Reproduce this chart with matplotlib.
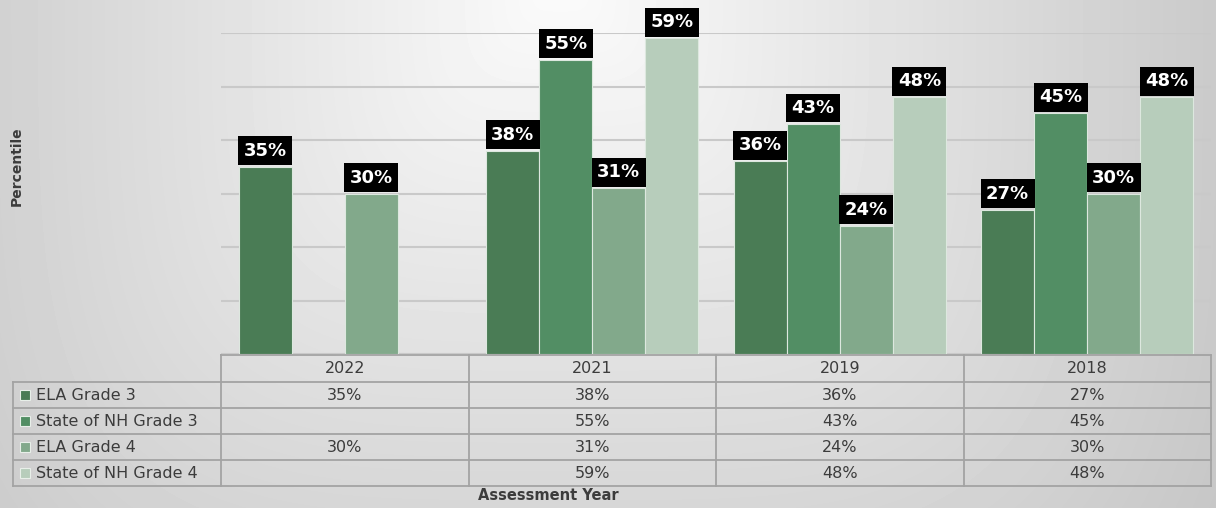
import matplotlib
matplotlib.use("Agg")
import matplotlib.pyplot as plt
import matplotlib.transforms as mtransforms
from matplotlib.patches import Rectangle
import numpy as np

years = ["2022", "2021", "2019", "2018"]
series = ["ELA Grade 3", "State of NH Grade 3", "ELA Grade 4", "State of NH Grade 4"]
ela_g3 = [35, 38, 36, 27]
nh_g3 = [np.nan, 55, 43, 45]
ela_g4 = [30, 31, 24, 30]
nh_g4 = [np.nan, 59, 48, 48]
colors = ["#4a7c55", "#528e64", "#82a98b", "#b7cdbb"]

W, H = 1216, 508
fig = plt.figure(figsize=(W / 100, H / 100), dpi=100)

# background: rectangular "path" gradient, light at top centre
bg = fig.add_axes([0, 0, 1, 1], zorder=-10)
yy, xx = np.mgrid[0:H, 0:W]
dx = np.abs(xx - 560) / 700.0
dy = np.abs(yy + 20) / 754.0
d = (dx ** 4 + dy ** 4) ** 0.25
shade = np.clip(0.985 - 0.205 * d, 0.78, 0.985)
bg.imshow(shade, cmap="gray", vmin=0, vmax=1, extent=[0, W, H, 0], aspect="auto")
bg.set_xlim(0, W)
bg.set_ylim(H, 0)
bg.axis("off")

left, right, top, base = 221, 1211, 33, 354
ax = fig.add_axes([left / W, (H - base) / H, (right - left) / W, (base - top) / H])
ax.patch.set_alpha(0)
ax.set_xlim(-0.5, 3.5)
ax.set_ylim(0, 60)
ax.set_yticks(np.arange(0, 61, 10))
ax.yaxis.grid(True, color="#c9c9c9", linewidth=1.5)
ax.set_axisbelow(True)
ax.tick_params(left=False, bottom=False, labelleft=False, labelbottom=False)
for s in ax.spines.values():
    s.set_visible(False)

x = np.arange(len(years))
w = 0.2145
data = [ela_g3, nh_g3, ela_g4, nh_g4]
for i, vals in enumerate(data):
    pos = x + (i - 1.5) * w
    ax.bar(pos, vals, width=w, color=colors[i], edgecolor="#dde8df",
           linewidth=0.8, zorder=3)
    for px, v in zip(pos, vals):
        if np.isnan(v):
            continue
        ax.annotate(f"{v:.0f}%", (px, v), xytext=(0, 11.5), textcoords="offset points",
                    ha="center", va="center", color="white", fontsize=13,
                    fontweight="bold", zorder=5, annotation_clip=False,
                    bbox=dict(boxstyle="square,pad=0.3", fc="black", ec="none"))

# data table below the plot
over = fig.add_axes([0, 0, 1, 1], zorder=5)
over.set_xlim(0, W)
over.set_ylim(H, 0)
over.axis("off")
tr = mtransforms.blended_transform_factory(ax.transData, over.transData)

line_kw = dict(color="#a3a3a3", linewidth=1.3)
row_y = [355, 382, 408, 434, 460, 486]
edges = np.arange(len(years) + 1) - 0.5
over.plot([left, right], [row_y[0], row_y[0]], **line_kw)
for yv in row_y[1:]:
    over.plot([13, right], [yv, yv], **line_kw)
over.plot([13, 13], [row_y[1], row_y[-1]], **line_kw)
for e in edges:
    over.plot([e, e], [row_y[0], row_y[-1]], transform=tr, **line_kw)

txt_kw = dict(color="#3c3c3c", fontsize=11.5, va="center")
for j, yr in enumerate(years):
    over.text(x[j], (row_y[0] + row_y[1]) / 2, yr, ha="center", transform=tr, **txt_kw)
for i, name in enumerate(series):
    yc = (row_y[i + 1] + row_y[i + 2]) / 2
    over.add_patch(Rectangle((20, yc - 5), 10, 10, facecolor=colors[i],
                             edgecolor="#e8efe9", linewidth=0.8))
    over.text(36, yc, name, ha="left", **txt_kw)
    for j, v in enumerate(data[i]):
        if not np.isnan(v):
            over.text(x[j], yc, f"{v:.0f}%", ha="center", transform=tr, **txt_kw)

over.text(548, 496, "Assessment Year", ha="center", va="center",
          fontsize=10.5, fontweight="bold", color="#3c3c3c")
over.text(17, 166, "Percentile", ha="center", va="center", rotation=90,
          fontsize=10, fontweight="bold", color="#3c3c3c")

fig.savefig("out.png", dpi=100)
